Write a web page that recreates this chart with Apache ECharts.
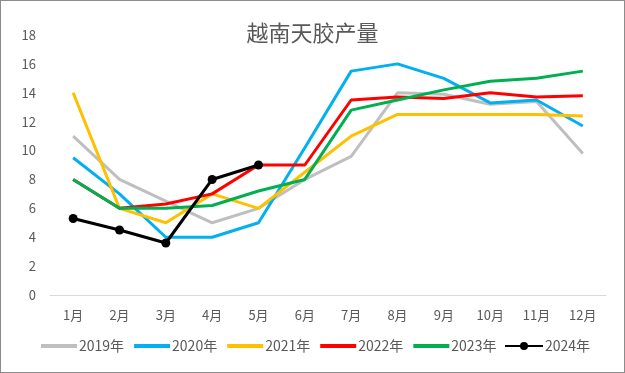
<!DOCTYPE html>
<html>
<head>
<meta charset="utf-8">
<script src="https://cdn.jsdelivr.net/npm/echarts@6/dist/echarts.min.js"></script>
<style>
html,body{margin:0;padding:0;background:#fff;}
#c{width:625px;height:373px;box-sizing:border-box;border:1px solid #8c8c8c;}
</style>
</head>
<body>
<div id="c"></div>
<script>
const months = ['1月','2月','3月','4月','5月','6月','7月','8月','9月','10月','11月','12月'];
const y2019 = [11, 8, 6.5, 5, 6, 8, 9.6, 14, 13.9, 13.2, 13.4, 9.8];
const y2020 = [9.5, 7, 4, 4, 5, 10.2, 15.5, 16, 15, 13.3, 13.5, 11.7];
const y2021 = [14, 6, 5, 7, 6, 8.5, 11, 12.5, 12.5, 12.5, 12.5, 12.4];
const y2022 = [8, 6, 6.3, 7, 9, 9, 13.5, 13.7, 13.6, 14, 13.7, 13.8];
const y2023 = [8, 6, 6, 6.2, 7.2, 8, 12.8, 13.5, 14.2, 14.8, 15, 15.5];
const y2024 = [5.3, 4.5, 3.6, 8, 9];
const seriesNames = ['2019年','2020年','2021年','2022年','2023年','2024年'];
const seriesData = [y2019, y2020, y2021, y2022, y2023, y2024];
const colors = ['#bfbfbf','#00b0f0','#ffc000','#ff0000','#00b050','#000000'];

const font = 'Noto Sans CJK SC';
const legendText = {fontFamily: font, fontSize: 14, color: '#595959', padding: [0,0,0,-3]};
const chart = echarts.init(document.getElementById('c'));
chart.setOption({
  animation: false,
  title: {
    text: '越南天胶产量', left: 'center', top: 16,
    textStyle: {fontFamily: font, fontSize: 22, fontWeight: 'normal', color: '#595959'}
  },
  grid: {left: 49, right: 18, top: 34, bottom: 77},
  legend: [{
    top: 333, left: 35, itemWidth: 36, itemHeight: 4, itemGap: 10,
    icon: 'rect',
    textStyle: legendText,
    data: seriesNames.slice(0, 5)
  }, {
    top: 333, left: 498, itemWidth: 38, itemHeight: 10,
    textStyle: legendText,
    data: seriesNames.slice(5)
  }],
  xAxis: {
    type: 'category', data: months, boundaryGap: true,
    axisLine: {lineStyle: {color: '#d9d9d9', width: 1}},
    axisTick: {show: false},
    axisLabel: {fontFamily: font, fontSize: 13, color: '#595959', margin: 14}
  },
  yAxis: {
    type: 'value', min: 0, max: 18, interval: 2,
    axisLine: {show: false}, axisTick: {show: false},
    splitLine: {show: false},
    axisLabel: {fontFamily: font, fontSize: 13, color: '#595959', margin: 14}
  },
  series: seriesNames.map((n, i) => ({
    name: n, type: 'line', data: seriesData[i],
    symbol: i === 5 ? 'circle' : 'none', symbolSize: 9,
    lineStyle: {width: 3, color: colors[i]},
    itemStyle: {color: colors[i]},
    z: 2 + i
  }))
});
</script>
</body>
</html>
